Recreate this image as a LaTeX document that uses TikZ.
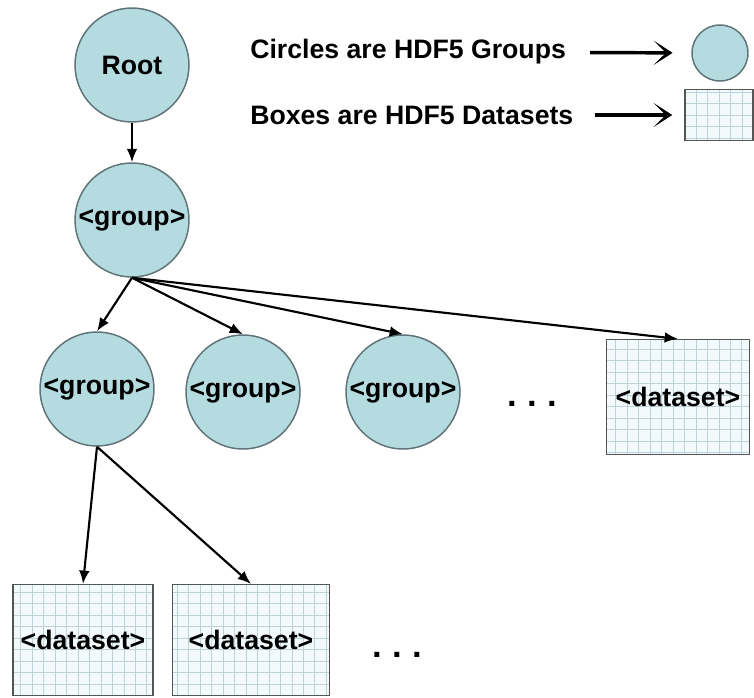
\documentclass[tikz,border=0pt]{standalone}
\usepackage{fontspec}
\setmainfont{Liberation Sans}
\usetikzlibrary{arrows.meta,positioning}
\definecolor{grpfill}{RGB}{180,220,224}
\definecolor{grpdraw}{RGB}{95,115,120}
\definecolor{setfill}{RGB}{243,250,251}
\definecolor{setgrid}{RGB}{190,211,217}
\definecolor{setdraw}{RGB}{85,85,85}
\tikzset{
  hgroup/.style={circle, draw=grpdraw, fill=grpfill, line width=1.1pt,
                 minimum size=#1, inner sep=0pt,
                 font=\fontsize{20}{24}\selectfont\bfseries},
  hgroup/.default=85.5pt,
  hdata/.style={rectangle, draw=setdraw, fill=setfill, line width=1.1pt,
                minimum width=#1, minimum height=86pt, inner sep=0pt,
                font=\fontsize{20}{24}\selectfont\bfseries,
                path picture={\draw[setgrid, line width=0.6pt]
                  (path picture bounding box.south west) grid[step=8.6pt]
                  (path picture bounding box.north east);}},
  hdata/.default=107pt,
  link/.style={-{Latex[length=10pt,width=8pt]}, line width=1.6pt},
  legarrow/.style={-{Stealth[length=14pt,width=18pt,inset=9pt]}, line width=2.6pt},
  legend/.style={font=\fontsize{20}{24}\selectfont\bfseries, inner sep=0pt},
  dots/.style={font=\fontsize{26}{28}\selectfont\bfseries, inner sep=0pt},
}
\begin{document}
\begin{tikzpicture}[x=0.75pt, y=-0.75pt]
\useasboundingbox (0,0) rectangle (754,697);

% -------------------- Legend --------------------
\node[legend, anchor=west] (ctext) at (250,52) {Circles are HDF5 Groups};
\node[legend, anchor=west] (btext) at (250,115) {Boxes are HDF5 Datasets};
\node[hgroup=42pt] (lcircle) at (720,53) {};
\node[hdata=51pt, minimum height=38pt] (lbox) at (719,115) {};
\draw[legarrow, shorten <=18pt, shorten >=14pt] (ctext) -- (lcircle);
\draw[legarrow, shorten <=16pt, shorten >=9pt] (btext) -- (lbox);

% -------------------- Tree --------------------
\node[hgroup] (root) at (132,65) {Root};
\node[hgroup] (g0) at (132,220) {<group>};

\node[hgroup] (g1) at (97,389) {<group>};
\node[hgroup] (g2) at (243,392) {<group>};
\node[hgroup] (g3) at (403,392) {<group>};
\node[dots] (more1) at (532,404) {.\hspace{7.8pt}.\hspace{7.8pt}.};
\node[hdata] (d0) at (678,397) {<dataset>};

\node[hdata=105pt, minimum height=83pt] (d1) at (83,640) {<dataset>};
\node[hdata=118pt, minimum height=83pt] (d2) at (251,640) {<dataset>};
\node[dots] (more2) at (397,655) {.\hspace{7.8pt}.\hspace{7.8pt}.};

% -------------------- Links --------------------
\draw[link] (root) -- (g0);
\foreach \t in {g1,g2,g3,d0}
  \draw[link] (g0.south) -- (\t.north);
\foreach \t in {d1,d2}
  \draw[link] (g1.south) -- (\t.north);

\end{tikzpicture}
\end{document}
